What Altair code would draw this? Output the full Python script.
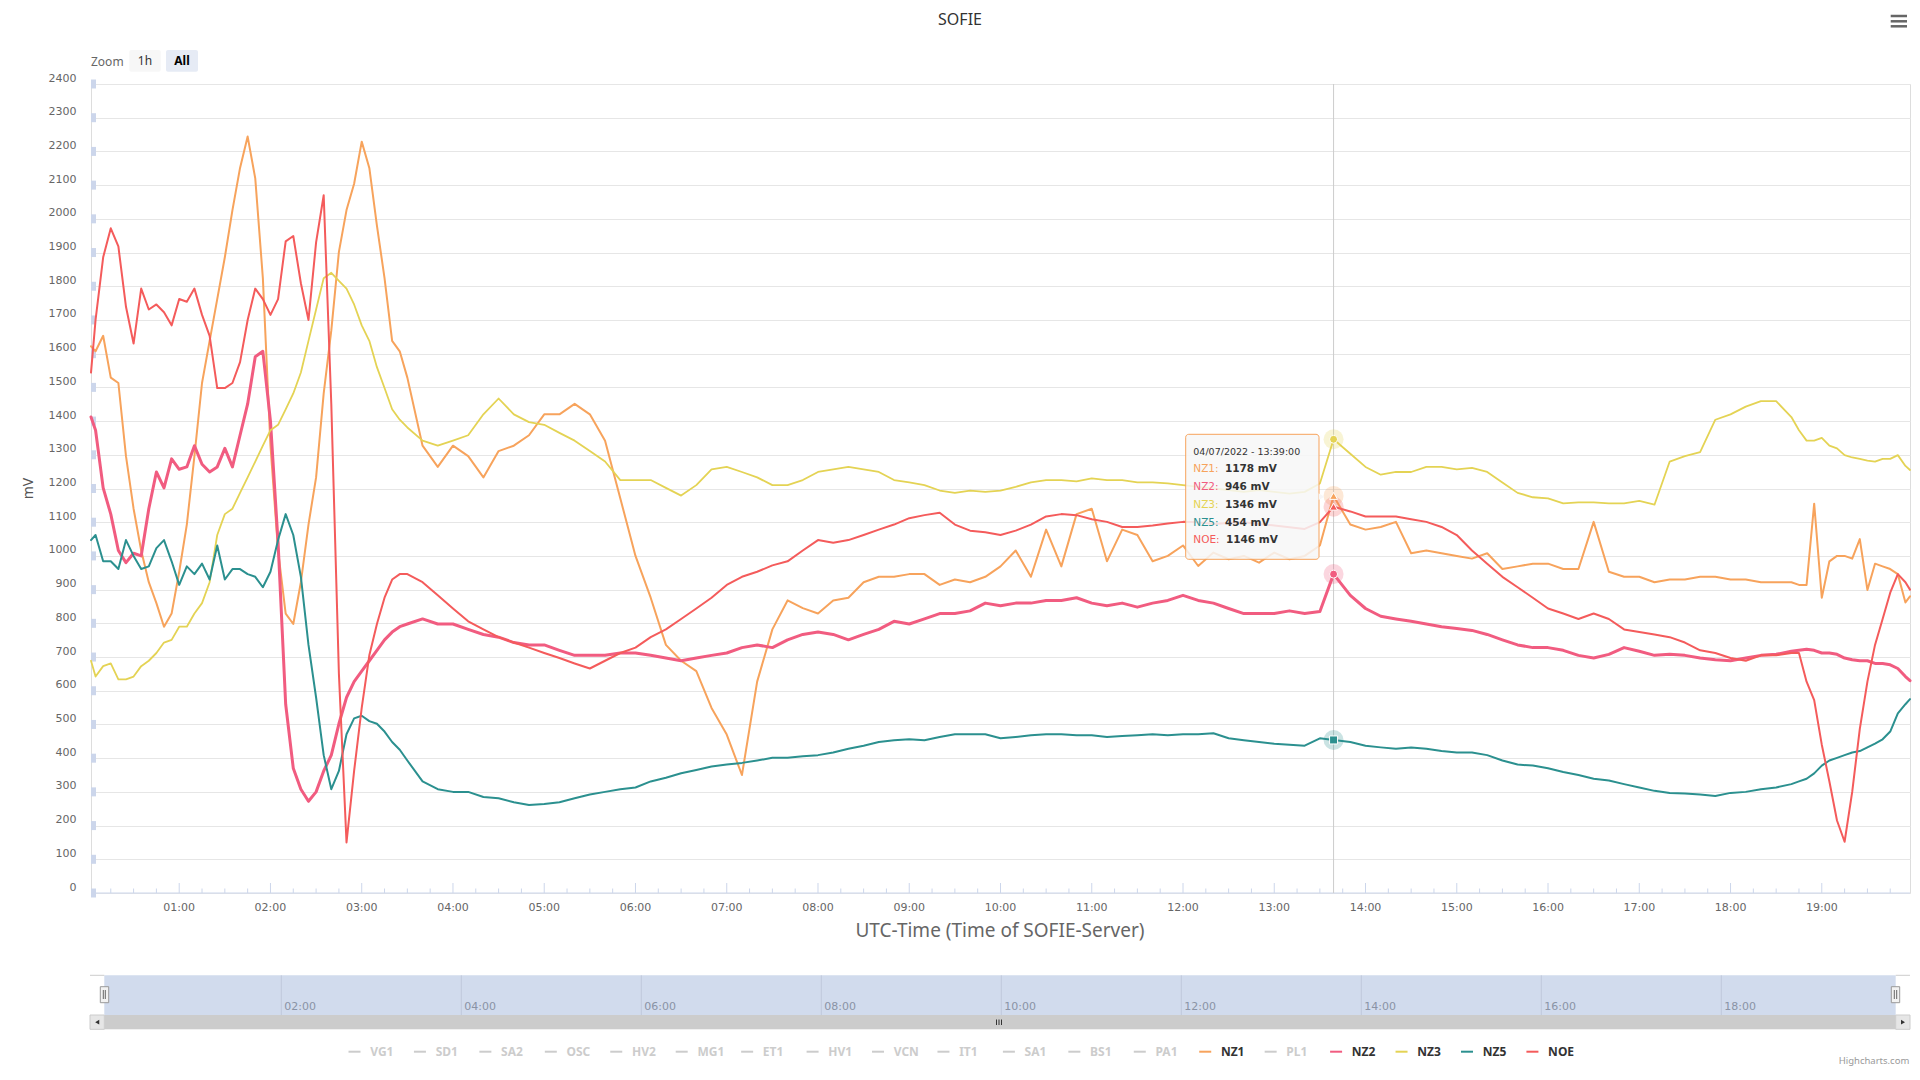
import altair as alt
import pandas as pd

# ------------------------------------------------------------------ data
TIMES = [
    "00:02", "00:05", "00:10", "00:15", "00:20", "00:25", "00:30", "00:35", "00:40", "00:45", "00:50", "00:55",
    "01:00", "01:05", "01:10", "01:15", "01:20", "01:25", "01:30", "01:35", "01:40", "01:45", "01:50", "01:55",
    "02:00", "02:05", "02:10", "02:15", "02:20", "02:25", "02:30", "02:35", "02:40", "02:45", "02:50", "02:55",
    "03:00", "03:05", "03:10", "03:15", "03:20", "03:25", "03:30", "03:40", "03:50",
    "04:00", "04:10", "04:20", "04:30", "04:40", "04:50",
    "05:00", "05:10", "05:20", "05:30", "05:40", "05:50",
    "06:00", "06:10", "06:20", "06:30", "06:40", "06:50",
    "07:00", "07:10", "07:20", "07:30", "07:40", "07:50",
    "08:00", "08:10", "08:20", "08:30", "08:40", "08:50",
    "09:00", "09:10", "09:20", "09:30", "09:40", "09:50",
    "10:00", "10:10", "10:20", "10:30", "10:40", "10:50",
    "11:00", "11:10", "11:20", "11:30", "11:40", "11:50",
    "12:00", "12:10", "12:20", "12:30", "12:40", "12:50",
    "13:00", "13:10", "13:20", "13:30", "13:39", "13:50",
    "14:00", "14:10", "14:20", "14:30", "14:40", "14:50",
    "15:00", "15:10", "15:20", "15:30", "15:40", "15:50",
    "16:00", "16:10", "16:20", "16:30", "16:40", "16:50",
    "17:00", "17:10", "17:20", "17:30", "17:40", "17:50",
    "18:00", "18:10", "18:20", "18:30", "18:40", "18:45", "18:50", "18:55",
    "19:00", "19:05", "19:10", "19:15", "19:20", "19:25", "19:30", "19:35", "19:40", "19:45", "19:50", "19:55", "19:58",
]

NZ1 = [
    1622, 1607, 1653, 1529, 1513, 1296, 1140, 1016, 922, 860, 790, 829,
    953, 1093, 1296, 1513, 1638, 1762, 1886, 2026, 2151, 2244, 2120, 1824,
    1327, 1016, 829, 798, 922, 1093, 1233, 1482, 1669, 1902, 2026, 2104,
    2229, 2151, 1980, 1824, 1638, 1607, 1529, 1327, 1264,
    1327, 1296, 1233, 1311, 1327, 1358,
    1420, 1420, 1451, 1420, 1342, 1171,
    1000, 876, 736, 689, 658, 549,
    470, 350, 627, 782, 868, 845,
    829, 868, 876, 922, 938, 938,
    946, 946, 914, 930, 922, 938,
    969, 1016, 938, 1078, 969, 1124,
    1140, 984, 1078, 1062, 984, 1000,
    1031, 970, 1010, 990, 1000, 980,
    1010, 990, 1000, 1031, 1178, 1093,
    1078, 1086, 1101, 1008, 1016, 1008,
    1000, 992, 1008, 961, 969, 977,
    977, 961, 961, 1101, 953, 938,
    938, 922, 930, 930, 938, 938,
    930, 930, 922, 922, 922, 914, 914, 1155,
    876, 984, 1000, 1000, 992, 1050, 899, 977, 969, 961, 946, 862, 880,
]

NZ2 = [
    1412, 1373, 1202, 1124, 1016, 980, 1008, 1000, 1140, 1249, 1202, 1288,
    1257, 1264, 1327, 1272, 1249, 1264, 1319, 1264, 1358, 1451, 1591, 1607,
    1400, 1040, 560, 370, 308, 272, 300, 362, 409, 502, 580, 627,
    658, 689, 720, 751, 774, 790, 798, 813, 798,
    798, 782, 767, 759, 743, 736,
    736, 720, 705, 705, 705, 712,
    712, 705, 697, 689, 697, 705,
    712, 728, 736, 728, 751, 767,
    774, 767, 751, 767, 782, 806,
    798, 813, 829, 829, 837, 860,
    852, 860, 860, 868, 868, 876,
    860, 852, 860, 848, 860, 868,
    883, 868, 860, 844, 829, 829,
    829, 837, 829, 835, 946, 883,
    844, 821, 813, 806, 798, 790,
    785, 779, 767, 751, 736, 728,
    728, 720, 705, 697, 708, 728,
    717, 705, 708, 705, 697, 692,
    689, 697, 705, 708, 717, 720, 723, 720,
    712, 712, 708, 697, 692, 689, 689, 681, 681, 677, 666, 642, 630,
]

NZ3 = [
    689, 642, 673, 681, 634, 634, 642, 673, 689, 712, 743, 751,
    790, 790, 829, 860, 922, 1062, 1124, 1140, 1187, 1233, 1280, 1327,
    1373, 1389, 1435, 1482, 1544, 1638, 1731, 1824, 1840, 1816, 1793, 1746,
    1684, 1638, 1560, 1498, 1435, 1404, 1381, 1342, 1327,
    1342, 1358, 1420, 1467, 1420, 1397,
    1389, 1365, 1342, 1311, 1280, 1225,
    1225, 1225, 1202, 1179, 1210, 1257,
    1264, 1249, 1233, 1210, 1210, 1225,
    1249, 1257, 1264, 1257, 1249, 1225,
    1218, 1210, 1194, 1187, 1194, 1190,
    1194, 1205, 1218, 1225, 1225, 1221,
    1230, 1225, 1225, 1218, 1218, 1215,
    1210, 1205, 1200, 1195, 1190, 1195,
    1190, 1185, 1190, 1215, 1346, 1303,
    1264, 1241, 1249, 1249, 1264, 1264,
    1257, 1261, 1249, 1218, 1187, 1174,
    1171, 1156, 1159, 1159, 1156, 1156,
    1163, 1152, 1280, 1296, 1308, 1404,
    1420, 1443, 1459, 1459, 1412, 1373, 1342, 1342,
    1350, 1327, 1319, 1299, 1292, 1288, 1283, 1280, 1288, 1288, 1299, 1267, 1255,
]

NZ5 = [
    1047, 1062, 984, 984, 961, 1047, 1000, 961, 969, 1023, 1047, 984,
    914, 969, 946, 977, 930, 1031, 930, 961, 961, 946, 938, 907,
    953, 1047, 1124, 1062, 938, 736, 580, 409, 308, 362, 471, 518,
    526, 510, 502, 479, 448, 425, 393, 331, 308,
    300, 300, 285, 281, 269, 261,
    264, 269, 281, 292, 300, 308,
    313, 331, 342, 355, 365, 375,
    381, 386, 393, 401, 401, 406,
    409, 417, 428, 437, 448, 453,
    456, 453, 463, 471, 471, 471,
    459, 463, 468, 471, 471, 468,
    468, 463, 466, 468, 471, 468,
    471, 471, 474, 459, 453, 448,
    443, 440, 437, 459, 454, 448,
    437, 432, 428, 432, 428, 421,
    417, 417, 409, 393, 381, 378,
    370, 359, 350, 339, 334, 323,
    313, 303, 297, 295, 292, 288,
    297, 300, 308, 313, 323, 331, 339, 355,
    378, 393, 401, 409, 417, 421, 432, 443, 456, 479, 533, 560, 575,
]

NOE = [
    1544, 1700, 1886, 1972, 1918, 1739, 1630, 1793, 1731, 1746, 1723, 1684,
    1762, 1754, 1793, 1715, 1653, 1498, 1498, 1513, 1575, 1700, 1793, 1762,
    1715, 1762, 1933, 1949, 1809, 1700, 1930, 2070, 1450, 650, 150, 362,
    549, 705, 798, 876, 930, 946, 946, 922, 883,
    844, 806, 782, 759, 743, 728,
    712, 697, 681, 666, 689, 712,
    728, 759, 782, 813, 844, 876,
    914, 938, 953, 972, 984, 1016,
    1047, 1039, 1047, 1062, 1078, 1093,
    1112, 1121, 1128, 1093, 1075, 1070,
    1062, 1075, 1093, 1117, 1124, 1121,
    1109, 1101, 1086, 1086, 1090, 1096,
    1101, 1100, 1095, 1098, 1100, 1095,
    1090, 1085, 1080, 1100, 1146, 1132,
    1117, 1117, 1117, 1109, 1101, 1086,
    1062, 1016, 977, 938, 907, 876,
    844, 829, 813, 829, 813, 782,
    774, 767, 759, 743, 720, 712,
    697, 689, 705, 705, 712, 712, 627, 572,
    440, 331, 215, 152, 300, 487, 627, 736, 813, 891, 946, 922, 900,
]

SERIES = ["NZ1", "NZ2", "NZ3", "NZ5", "NOE"]
VALUES = {"NZ1": NZ1, "NZ2": NZ2, "NZ3": NZ3, "NZ5": NZ5, "NOE": NOE}
COLORS = {"NZ1": "#f7a35c", "NZ2": "#f15c80", "NZ3": "#e4d354", "NZ5": "#2b908f", "NOE": "#f45b5b"}
WIDTHS = {"NZ1": 2, "NZ2": 3, "NZ3": 1.8, "NZ5": 2, "NOE": 2}
MARKERS = {"NZ1": "triangle-up", "NZ2": "circle", "NZ3": "circle", "NZ5": "square", "NOE": "triangle-up"}

LEGEND_NAMES = ["VG1", "SD1", "SA2", "OSC", "HV2", "MG1", "ET1", "HV1", "VCN", "IT1",
                "SA1", "BS1", "PA1", "NZ1", "PL1", "NZ2", "NZ3", "NZ5", "NOE"]
Y_TICKS = [0, 100, 200, 300, 400, 500, 600, 700, 800, 900, 1000, 1100, 1200,
           1300, 1400, 1500, 1600, 1700, 1800, 1900, 2000, 2100, 2200, 2300, 2400]
HOUR_LABELS = ["01:00", "02:00", "03:00", "04:00", "05:00", "06:00", "07:00", "08:00", "09:00", "10:00",
               "11:00", "12:00", "13:00", "14:00", "15:00", "16:00", "17:00", "18:00", "19:00"]
NAV_LABELS = ["02:00", "04:00", "06:00", "08:00", "10:00", "12:00", "14:00", "16:00", "18:00"]
TOOLTIP_TIME = "13:39"
TOOLTIP_HEADER = "04/07/2022 - 13:39:00"

for s in SERIES:
    assert len(VALUES[s]) == len(TIMES), (s, len(VALUES[s]), len(TIMES))


def to_min(hm):
    h, m = hm.split(":")
    return int(h) * 60 + int(m)


MINUTES = [to_min(t) for t in TIMES]

# ------------------------------------------------------------------ layout
W, H = 1819, 809
X_SCALE = alt.Scale(domain=[2, 1198], nice=False, zero=False)
Y_SCALE = alt.Scale(domain=[0, 2400], nice=False, zero=False)
Y_AXIS = alt.Axis(values=Y_TICKS, format="d", grid=True, gridColor="#e6e6e6", gridWidth=1,
                  domain=False, ticks=False, tickSize=0, labelPadding=15,
                  labelFont="DejaVu Sans", labelFontSize=11, labelColor="#666666",
                  labelOffset=-6, labelFlush=False, labelOverlap=False, labelBound=False,
                  title=None)
FONT = "Noto Sans"
ONE = pd.DataFrame({"a": [0]})


def X(field="m"):
    return alt.X(f"{field}:Q", scale=X_SCALE, axis=None)


def Y(field="v"):
    return alt.Y(f"{field}:Q", scale=Y_SCALE, axis=Y_AXIS)


def txt(x, y, s, **kw):
    return alt.Chart(ONE).mark_text(text=s, **kw).encode(x=alt.value(x), y=alt.value(y))


def rect(x, x2, y, y2, **kw):
    return alt.Chart(ONE).mark_rect(**kw).encode(
        x=alt.value(x), x2=alt.value(x2), y=alt.value(y), y2=alt.value(y2))


def hline(x, x2, y, **kw):
    return alt.Chart(ONE).mark_rule(**kw).encode(x=alt.value(x), x2=alt.value(x2), y=alt.value(y))


def vline(x, y, y2, **kw):
    return alt.Chart(ONE).mark_rule(**kw).encode(x=alt.value(x), y=alt.value(y), y2=alt.value(y2))


def sym(x, y, shape, size, color):
    return alt.Chart(ONE).mark_point(shape=shape, size=size, filled=True, color=color,
                                     opacity=1).encode(x=alt.value(x), y=alt.value(y))


# ------------------------------------------------------------------ data layers
data_layers = []

# y tick blocks on the left edge
RECT_PATH = "M-0.556,-1L0.556,-1L0.556,1L-0.556,1Z"
data_layers.append(
    alt.Chart(pd.DataFrame({"v": Y_TICKS})).mark_point(
        shape=RECT_PATH, size=81, filled=True, color="#ccd6eb", opacity=1
    ).encode(x=alt.value(2.5), y=Y())
)

# x axis line and ticks (drawn inside the plot, as in the original)
data_layers.append(hline(0, W, H, color="#ccd6eb", strokeWidth=1))
major_df = pd.DataFrame({"m": [to_min(h) for h in HOUR_LABELS]})
minor_df = pd.DataFrame({"m": [q for q in range(15, 1198, 15) if q % 60 != 0]})
data_layers.append(alt.Chart(major_df).mark_rule(color="#ccd6eb").encode(
    x=X(), y=alt.value(H - 10), y2=alt.value(H)))
data_layers.append(alt.Chart(minor_df).mark_rule(color="#ccd6eb").encode(
    x=X(), y=alt.value(H - 4.5), y2=alt.value(H)))
xl_df = pd.DataFrame({"m": [to_min(h) for h in HOUR_LABELS], "label": HOUR_LABELS})
data_layers.append(alt.Chart(xl_df).mark_text(
    font="DejaVu Sans", fontSize=11, color="#666666", align="center", baseline="middle"
).encode(x=X(), y=alt.value(H + 15.3), text="label:N"))

# crosshair
data_layers.append(alt.Chart(pd.DataFrame({"m": [to_min(TOOLTIP_TIME)]})).mark_rule(
    color="#cccccc", strokeWidth=1).encode(x=X(), y=alt.value(0), y2=alt.value(H)))

# series lines
for s in SERIES:
    d = pd.DataFrame({"m": MINUTES, "v": VALUES[s]})
    data_layers.append(alt.Chart(d).mark_line(
        color=COLORS[s], strokeWidth=WIDTHS[s], strokeJoin="round", strokeCap="round"
    ).encode(x=X(), y=Y()))

# hover markers
idx = TIMES.index(TOOLTIP_TIME)
mk = pd.DataFrame({
    "m": [to_min(TOOLTIP_TIME)] * len(SERIES),
    "v": [VALUES[s][idx] for s in SERIES],
    "c": [COLORS[s] for s in SERIES],
    "shp": [MARKERS[s] for s in SERIES],
})
data_layers.append(alt.Chart(mk).mark_point(filled=True, size=400, opacity=0.25, shape="circle").encode(
    x=X(), y=Y(), color=alt.Color("c:N", scale=None)))
data_layers.append(alt.Chart(mk).mark_point(filled=True, size=64, opacity=1, stroke="#ffffff",
                                            strokeWidth=1).encode(
    x=X(), y=Y(), color=alt.Color("c:N", scale=None), shape=alt.Shape("shp:N", scale=None)))

data_layer = alt.layer(*data_layers)

# ------------------------------------------------------------------ decoration layers
pix = []

# tooltip
pix.append(rect(1094.7, 1228, 350.3, 475.3, fill="#f7f7f7", fillOpacity=0.85,
                stroke="#f7a35c", strokeWidth=1, cornerRadius=3))
pix.append(alt.Chart(ONE).mark_point(shape="triangle-right", size=45, filled=True, color="#f7f7f7",
                                     opacity=1).encode(x=alt.value(1230.5), y=alt.value(412.7)))
pix.append(txt(1102.3, 367.7, TOOLTIP_HEADER, font="DejaVu Sans", fontSize=9.5, color="#333333",
               align="left", baseline="middle"))
CW = {"N": .748, "Z": .685, "O": .787, "E": .632, "1": .636, "2": .636, "3": .636, "5": .636}
for i, s in enumerate(SERIES):
    yy = 385.3 + 17.75 * i
    pix.append(txt(1102.3, yy, s + ":", font="DejaVu Sans", fontSize=10.5, color=COLORS[s],
                   align="left", baseline="middle"))
    off = 10.5 * (sum(CW[c] for c in s) + 0.337 + 0.318) + 3
    pix.append(txt(1102.3 + off, yy, f"{VALUES[s][idx]} mV", font="DejaVu Sans", fontSize=10.5,
                   fontWeight="bold", color="#333333", align="left", baseline="middle"))

# titles
pix.append(txt(869, -64.5, "SOFIE", font=FONT, fontSize=16, color="#333333", align="center",
               baseline="middle"))
pix.append(txt(909, 846.6, "UTC-Time (Time of SOFIE-Server)", font=FONT, fontSize=19,
               color="#666666", align="center", baseline="middle"))
pix.append(txt(-61.6, 404.5, "mV", font=FONT, fontSize=14, color="#555555", align="center",
               baseline="middle", angle=270))

# range selector
pix.append(txt(0, -22, "Zoom", font=FONT, fontSize=12, color="#666666", align="left",
               baseline="middle"))
pix.append(rect(38.3, 69.7, -34, -12.3, fill="#f7f7f7", cornerRadius=2))
pix.append(rect(75, 107, -34, -12.3, fill="#e6ebf5", cornerRadius=2))
pix.append(txt(54, -23, "1h", font=FONT, fontSize=12, color="#333333", align="center",
               baseline="middle"))
pix.append(txt(91, -23, "All", font=FONT, fontSize=12, fontWeight="bold", color="#000000",
               align="center", baseline="middle"))

# context menu icon
for yy in (-68, -62.7, -57.7):
    pix.append(hline(1799.7, 1816, yy, color="#666666", strokeWidth=2.5))

# navigator
NAV_T, NAV_B = 891.3, 931
MASK_L, MASK_R = 13.3, 1804.7
pix.append(rect(MASK_L, MASK_R, NAV_T, NAV_B, fill="#d1dbed"))
nav_df = pd.DataFrame({
    "px": [MASK_L + (to_min(l) - 2) * 1.5 for l in NAV_LABELS],
    "label": NAV_LABELS,
})
nav_df["tx"] = nav_df["px"] + 3
pix.append(alt.Chart(nav_df).mark_rule(color="#c0c9db").encode(
    x=alt.X("px:Q", scale=None, axis=None), y=alt.value(NAV_T), y2=alt.value(NAV_B)))
pix.append(alt.Chart(nav_df).mark_text(font="DejaVu Sans", fontSize=11, color="#8a93a5",
                                       align="left", baseline="middle").encode(
    x=alt.X("tx:Q", scale=None, axis=None), y=alt.value(922.7), text="label:N"))
pix.append(hline(-1, MASK_L, NAV_T, color="#cccccc", strokeWidth=1))
pix.append(hline(MASK_R, W, NAV_T, color="#cccccc", strokeWidth=1))
# handles
for hx0, hx1, l1, l2 in ((9.3, 17.7, 12.3, 14.3), (1800.3, 1808.7, 1803.3, 1805.7)):
    pix.append(rect(hx0, hx1, 902.7, 918.7, fill="#f2f2f2", stroke="#999999", strokeWidth=1))
    pix.append(vline(l1, 906, 915, color="#666666", strokeWidth=1))
    pix.append(vline(l2, 906, 915, color="#666666", strokeWidth=1))
# scrollbar
SB_T, SB_B = 931, 945.3
pix.append(rect(-1, W, SB_T, SB_B, fill="#f2f2f2"))
pix.append(rect(MASK_L, MASK_R, SB_T, SB_B, fill="#cccccc"))
pix.append(rect(-1, MASK_L, SB_T, SB_B, fill="#e6e6e6", stroke="#cccccc", strokeWidth=1))
pix.append(rect(MASK_R, W, SB_T, SB_B, fill="#e6e6e6", stroke="#cccccc", strokeWidth=1))
pix.append(sym(6.2, 938.2, "triangle-left", 22, "#333333"))
pix.append(sym(1812, 938.2, "triangle-right", 22, "#333333"))
for gx in (905.5, 908, 910.5):
    pix.append(vline(gx, 935.5, 941, color="#333333", strokeWidth=1))

# legend
leg = pd.DataFrame({"name": LEGEND_NAMES})
leg["sx"] = [257.5 + 65.44 * i for i in range(len(LEGEND_NAMES))]
leg["sx2"] = leg["sx"] + 12
leg["tx"] = leg["sx"] + 21.7
leg["color"] = [COLORS.get(n, "#cccccc") for n in LEGEND_NAMES]
leg["tcolor"] = ["#333333" if n in COLORS else "#cccccc" for n in LEGEND_NAMES]
pix.append(alt.Chart(leg).mark_rule(strokeWidth=2).encode(
    x=alt.X("sx:Q", scale=None, axis=None), x2="sx2:Q", y=alt.value(967.7),
    color=alt.Color("color:N", scale=None)))
pix.append(alt.Chart(leg).mark_text(font=FONT, fontSize=12, fontWeight="bold", align="left",
                                    baseline="middle").encode(
    x=alt.X("tx:Q", scale=None, axis=None), y=alt.value(967.7), text="name:N",
    color=alt.Color("tcolor:N", scale=None)))

# credits
pix.append(txt(1818.3, 977, "Highcharts.com", font=FONT, fontSize=9.5, color="#999999",
               align="right", baseline="middle"))

pixel_layer = alt.layer(*pix)

chart = alt.layer(data_layer, pixel_layer).resolve_scale(
    x="independent", y="independent"
).properties(
    width=W, height=H,
    autosize=alt.AutoSizeParams(type="none"),
    padding={"left": 83, "top": 76, "right": 2, "bottom": 176},
).configure_view(stroke=None).configure(background="white")

chart.save("out.html", embed_options={"renderer": "svg", "actions": False})
